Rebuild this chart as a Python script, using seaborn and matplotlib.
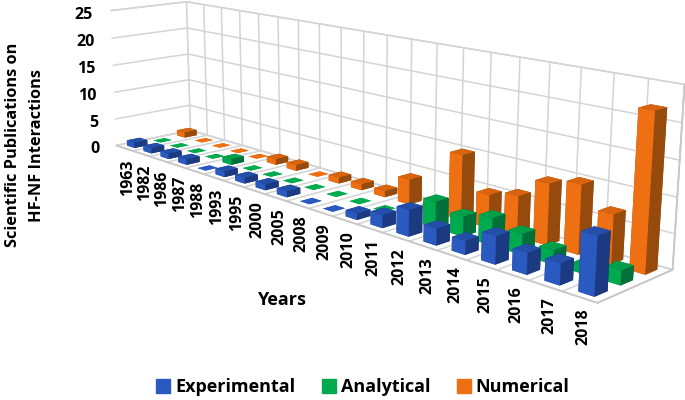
import numpy as np
import seaborn as sns
import matplotlib
matplotlib.use("Agg")
import matplotlib.pyplot as plt
from matplotlib.patches import Patch

years = ["1963", "1982", "1986", "1987", "1988", "1993", "1995", "2000", "2005", "2008",
         "2009", "2010", "2011", "2012", "2013", "2014", "2015", "2016", "2017", "2018"]
experimental = [1, 1, 1, 1, 0, 1, 1, 1, 1, 0, 0, 1, 2, 4, 2.5, 2, 4, 3, 3, 8]
analytical = [0, 0, 0, 0, 1, 0, 0, 0, 0, 0, 0, 0, 0, 4, 3, 4, 3, 2, 1, 2]
numerical = [1, 0, 0, 0, 0, 1, 1, 0, 1, 1, 1, 4, 1, 10, 5, 6, 9, 10, 7, 22]
series_names = ["Experimental", "Analytical", "Numerical"]
series_values = [experimental, analytical, numerical]
front_colors = ["#2A5AC0", "#00AB4F", "#EE7012"]
top_colors = ["#234FA8", "#009F49", "#D9640F"]
side_colors = ["#1C3A82", "#00703A", "#964A0B"]

sns.set_theme(style="white")
plt.rcParams["font.family"] = ["Open Sans", "DejaVu Sans"]

fig = plt.figure(figsize=(6.85, 4), dpi=100)
# square axes wider than the figure height, so nothing gets shrunk by the 3d aspect
ax = fig.add_axes([-3.15 / 685, ((400 - 685) / 2 + 70.23) / 400, 1, 685 / 400], projection="3d")
ax.set_xlim(0, 20, view_margin=0)
ax.set_ylim(0, 3, view_margin=0)
ax.set_zlim(0, 25, view_margin=0)
ax.view_init(elev=13.35, azim=-43.57)
ax.set_proj_type("persp", focal_length=0.3305)
ax.set_box_aspect((1, 0.1585, 0.2348), zoom=1.0065)
M = ax.get_proj()


def on_screen(x, y, z):
    q = M @ np.array([x, y, z, 1.0])
    return q[0] / q[3], q[1] / q[3]


for axis in (ax.xaxis, ax.yaxis, ax.zaxis):
    axis.set_pane_color((1, 1, 1, 1))
    axis.pane.set_edgecolor("#D0D0D0")
    axis.line.set_color("#C8C8C8")
    axis.line.set_linewidth(1.3)
    axis._axinfo["grid"]["color"] = "#D4D4D4"
    axis._axinfo["grid"]["linewidth"] = 1.1
    axis._axinfo["tick"]["inward_factor"] = 0
    axis._axinfo["tick"]["outward_factor"] = 0
ax.set_xticks(range(len(years) + 1))
ax.set_yticks([])
ax.set_zticks(range(0, 30, 5))
ax.set_xticklabels([])
ax.set_zticklabels([])
ax.computed_zorder = False

# back row first, left to right, so nearer bars paint over farther ones
order = 10
for s in [2, 1, 0]:
    for i, year in enumerate(years):
        v = series_values[s][i]
        if v == 0:
            # zero counts show as a flat square on the floor
            ax.bar3d(i + 0.29, s + 0.27, 0, 0.42, 0.46, 0, color=front_colors[s], shade=False, linewidth=0,
                     zorder=order)
        else:
            # faces: -Z, +Z, -Y, +Y, -X, +X
            cols = [side_colors[s], top_colors[s], front_colors[s], side_colors[s], side_colors[s], side_colors[s]]
            ax.bar3d(i + 0.27, s + 0.25, 0, 0.46, 0.5, v, color=cols, shade=False, linewidth=0, zorder=order)
        order += 1

for i, year in enumerate(years):
    ax.annotate(year, xy=on_screen(i + 0.5, 0, 0), xytext=(4, -11), textcoords="offset pixels",
                rotation=90, ha="center", va="top", fontsize=11.5, fontweight="bold", color="black",
                annotation_clip=False)
for z in range(0, 30, 5):
    ax.annotate(str(z), xy=on_screen(0, 0, z), xytext=(-17, -4), textcoords="offset pixels", ha="right", va="center",
                fontsize=11.5, fontweight="bold", color="black", annotation_clip=False)

fig.text(13 / 685, 1 - 145 / 400, "Scientific Publications on", rotation=90, ha="center", va="center",
         fontsize=11.8, fontweight="bold", color="black")
fig.text(37 / 685, 1 - 145 / 400, "HF-NF Interactions", rotation=90, ha="center", va="center",
         fontsize=11.8, fontweight="bold", color="black")
fig.text(281 / 685, 1 - 300 / 400, "Years", ha="center", va="center", fontsize=13, fontweight="bold", color="black")

handles = [Patch(color=c, label=n) for c, n in zip(front_colors, series_names)]
fig.legend(handles=handles, ncol=3, frameon=False, loc="center", bbox_to_anchor=(363 / 685, 1 - 387 / 400),
           prop={"size": 13, "weight": "bold"}, handlelength=0.78, handleheight=0.78, columnspacing=1.45,
           handletextpad=0.28, labelcolor="black")

fig.savefig("out.png", dpi=100)
